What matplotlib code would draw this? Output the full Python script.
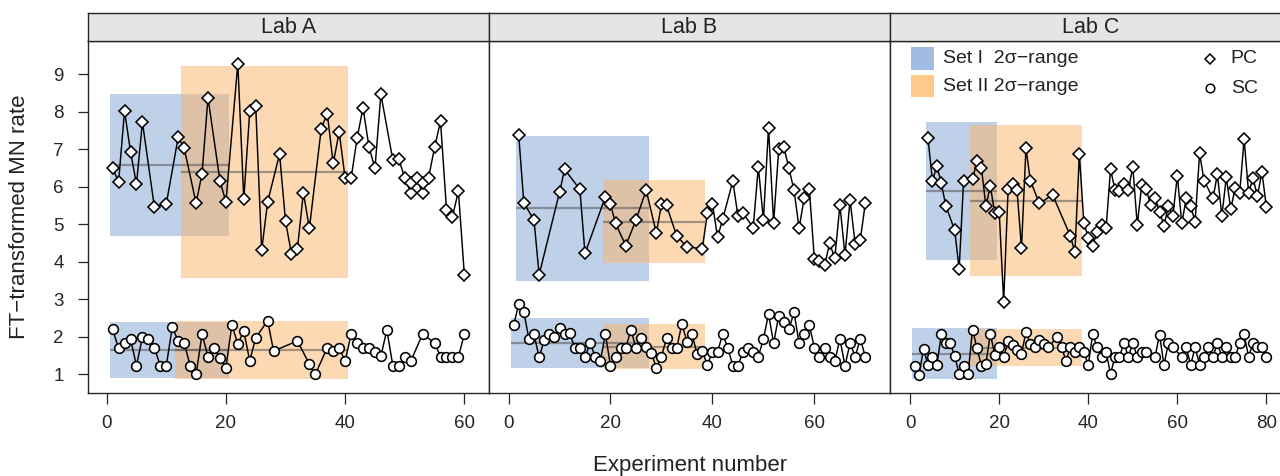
import matplotlib
matplotlib.use("Agg")
import matplotlib.pyplot as plt
from matplotlib.patches import Rectangle
from matplotlib.lines import Line2D

plt.rcParams['font.family'] = ['Liberation Sans', 'DejaVu Sans']

labs = ["Lab A", "Lab B", "Lab C"]

# Lab A
a_pc_x = [1, 2, 3, 4, 5, 6, 8, 10, 12, 13, 15, 16, 17, 19, 20, 22, 23, 24, 25, 26, 27,
          29, 30, 31, 32, 33, 34, 36, 37, 38, 39, 40, 41, 42, 43, 44, 45, 46, 48, 49,
          50, 51, 51, 52, 53, 53, 54, 55, 56, 57, 58, 59, 60]
a_pc_y = [6.49, 6.13, 8.02, 6.93, 6.07, 7.72, 5.46, 5.54, 7.32, 7.03, 5.56, 6.35, 8.37,
          6.16, 5.59, 9.28, 5.67, 8.01, 8.15, 4.31, 5.59, 6.87, 5.08, 4.21, 4.35, 5.84,
          4.89, 7.55, 7.95, 6.62, 7.46, 6.22, 6.22, 7.29, 8.10, 7.06, 6.49, 8.46, 6.71,
          6.73, 6.24, 5.84, 6.10, 6.24, 5.82, 6.10, 6.24, 7.05, 7.74, 5.39, 5.20, 5.88, 3.64]
a_sc_x = list(range(1, 26)) + [27, 28, 32, 34, 35] + list(range(37, 52)) + [53] + list(range(55, 61))
a_sc_y = [2.20, 1.69, 1.83, 1.94, 1.23, 1.99, 1.94, 1.71, 1.23, 1.23, 2.25, 1.89, 1.84,
          1.23, 1.00, 2.07, 1.47, 1.71, 1.44, 1.18, 2.31, 1.81, 2.15, 1.36, 1.97, 2.43,
          1.62, 1.89, 1.27, 1.00, 1.71, 1.62, 1.71, 1.35, 2.07, 1.84, 1.71, 1.71, 1.60,
          1.49, 2.18, 1.23, 1.23, 1.47, 1.35, 2.07, 1.84, 1.47, 1.47, 1.47, 1.47, 2.07]

# Lab B
b_pc_x = [2, 3, 5, 6, 10, 11, 14, 15, 19, 20, 21, 23, 25, 27, 29, 30, 31, 33, 35, 38,
          39, 40, 41, 42, 44, 45, 46, 48, 49, 50] + list(range(51, 71))
b_pc_y = [7.37, 5.57, 5.11, 3.65, 5.85, 6.46, 5.93, 4.22, 5.73, 5.53, 5.02, 4.43, 5.11,
          5.91, 4.76, 5.53, 5.50, 4.68, 4.40, 4.34, 5.29, 5.55, 4.65, 5.13, 6.15, 5.22,
          5.29, 4.91, 6.53, 5.11, 7.57, 5.04, 7.00, 7.06, 6.49, 5.91, 4.89, 5.70, 5.95,
          4.06, 4.02, 3.91, 4.49, 4.09, 5.51, 4.18, 5.64, 4.47, 4.58, 5.57]
b_sc_x = list(range(1, 71))
b_sc_y = [2.31, 2.87, 2.66, 1.94, 2.07, 1.45, 1.91, 2.07, 2.00, 2.24,
          2.07, 2.09, 1.71, 1.71, 1.45, 1.84, 1.47, 1.35, 2.07, 1.23,
          1.47, 1.71, 1.71, 2.18, 1.71, 1.96, 1.74, 1.56, 1.18, 1.47,
          1.97, 1.71, 1.71, 2.34, 1.87, 2.07, 1.53, 1.62, 1.25, 1.60,
          1.60, 2.07, 1.71, 1.23, 1.23, 1.60, 1.71, 1.60, 1.47, 1.94,
          2.61, 1.83, 2.56, 2.40, 2.20, 2.65, 1.83, 2.07, 2.31, 1.71,
          1.47, 1.71, 1.47, 1.35, 1.94, 1.23, 1.83, 1.47, 1.94, 1.47]

# Lab C
c_pc_x = [4, 5, 6, 7, 8, 10, 11, 12, 14, 15, 16, 17, 18, 19, 20, 21, 22, 23, 24, 25,
          26, 27, 29, 32] + list(range(36, 67)) + list(range(68, 81))
c_pc_y = [7.29, 6.16, 6.55, 6.09, 5.49, 4.84, 3.80, 6.16, 6.20, 6.68, 6.51, 5.48, 6.02,
          5.29, 5.32, 2.93, 5.94, 6.06, 5.91, 4.36, 7.02, 6.16, 5.56, 5.78, 4.68, 4.25,
          6.87, 5.04, 4.64, 4.42, 4.80, 4.98, 4.89, 6.47, 5.91, 5.89, 6.06, 5.91, 6.53,
          4.98, 6.04, 5.94, 5.51, 5.71, 5.33, 4.96, 5.48, 5.22, 6.29, 5.02, 5.69, 5.48,
          5.07, 6.89, 6.16, 5.69, 6.33, 5.22, 6.25, 5.40, 5.97, 5.82, 7.27, 5.84, 6.22,
          5.75, 6.40, 5.45]
c_sc_x = list(range(1, 32)) + list(range(33, 54)) + list(range(55, 60)) + list(range(61, 81))
c_sc_y = [1.23, 0.99, 1.68, 1.24, 1.46, 1.24, 2.07, 1.83, 1.83, 1.48,
          1.01, 1.23, 1.01, 2.19, 1.70, 1.23, 1.27, 2.08, 1.52, 1.72,
          1.45, 1.90, 1.79, 1.66, 1.55, 2.12, 1.82, 1.72, 1.91, 1.82, 1.72,
          1.99, 1.72, 1.36, 1.72, 1.59, 1.72, 1.60, 1.25, 2.07, 1.72,
          1.47, 1.60, 1.01, 1.47, 1.47, 1.83, 1.47, 1.83, 1.47, 1.60, 1.60,
          1.47, 2.05, 1.25, 1.83, 1.72,
          1.47, 1.72, 1.25, 1.72, 1.25, 1.47, 1.72, 1.47, 1.83, 1.47,
          1.72, 1.47, 1.47, 1.83, 2.07, 1.47, 1.83, 1.72, 1.72, 1.47]

# 2-sigma ranges: (first exp, last exp, mean, half width)
a_pc_set1 = (1, 20, 6.575, 1.885)
a_pc_set2 = (13, 40, 6.39, 2.82)
a_sc_set1 = (1, 20, 1.65, 0.74)
a_sc_set2 = (12, 40, 1.65, 0.78)
b_pc_set1 = (2, 27, 5.42, 1.93)
b_pc_set2 = (19, 38, 5.07, 1.11)
b_sc_set1 = (1, 27, 1.84, 0.66)
b_sc_set2 = (19, 38, 1.735, 0.595)
c_pc_set1 = (4, 19, 5.885, 1.845)
c_pc_set2 = (14, 38, 5.63, 2.01)
c_sc_set1 = (1, 19, 1.55, 0.68)
c_sc_set2 = (14, 38, 1.71, 0.49)

panels = [
    (a_pc_x, a_pc_y, a_sc_x, a_sc_y, [a_pc_set1, a_sc_set1], [a_pc_set2, a_sc_set2]),
    (b_pc_x, b_pc_y, b_sc_x, b_sc_y, [b_pc_set1, b_sc_set1], [b_pc_set2, b_sc_set2]),
    (c_pc_x, c_pc_y, c_sc_x, c_sc_y, [c_pc_set1, c_sc_set1], [c_pc_set2, c_sc_set2]),
]

blue_fill = '#81a3d5'
orange_fill = '#fbb569'
blue_key = '#a0bce3'
orange_key = '#fdca8c'
frame_col = '#262626'

fig = plt.figure(figsize=(12.8, 4.76), dpi=100)

W, H = 1280.0, 476.0
left0 = 88 / W
pw = 401 / W
bottom = 1 - 392.7 / H
ph = (392.7 - 40.7) / H
strip_h = (40.7 - 13.3) / H

axes = []
for i, (pcx, pcy, scx, scy, set1, set2) in enumerate(panels):
    ax = fig.add_axes([left0 + i * pw, bottom, pw, ph])
    axes.append(ax)

    for sets, col in [(set1, blue_fill), (set2, orange_fill)]:
        for first, last, mean, hw in sets:
            ax.add_patch(Rectangle((first - 0.5, mean - hw), last - first + 1, 2 * hw,
                                   facecolor=col, alpha=0.5, edgecolor='none', zorder=1))
            ax.plot([first - 0.5, last + 0.5], [mean, mean], color='#555555',
                    alpha=0.55, lw=1.6, zorder=2, solid_capstyle='butt')

    ax.plot(pcx, pcy, color='black', lw=1.05, marker='D', ms=6.3, mfc='white',
            mec='black', mew=1.15, zorder=3)
    ax.plot(scx, scy, color='black', lw=1.05, marker='o', ms=7.0, mfc='white',
            mec='black', mew=1.15, zorder=3)

    lo = min(pcx + scx)
    hi = max(pcx + scx)
    pad = 0.07 * (hi - lo)
    ax.set_xlim(lo - pad, hi + pad)
    ax.set_ylim(0.51, 9.89)

    ticks = [t for t in range(0, 81, 20) if t <= hi + pad]
    ax.set_xticks(ticks)
    ax.tick_params(axis='x', direction='out', length=7.7, width=0.9, pad=8.5,
                   labelsize=13.5, colors=frame_col)
    if i == 0:
        ax.set_yticks(range(1, 10))
        ax.tick_params(axis='y', direction='out', length=7.5, width=0.9, pad=10,
                       labelsize=13.5, colors=frame_col)
    else:
        ax.set_yticks([])
    for s in ax.spines.values():
        s.set_color(frame_col)
        s.set_linewidth(1.0)

    # strip on top
    sax = fig.add_axes([left0 + i * pw, bottom + ph, pw, strip_h])
    sax.set_facecolor('#e5e5e5')
    sax.set_xticks([])
    sax.set_yticks([])
    for s in sax.spines.values():
        s.set_color(frame_col)
        s.set_linewidth(1.0)
    sax.text(0.5, 0.47, labs[i], ha='center', va='center', fontsize=15.5,
             color='#222222', transform=sax.transAxes)

# legend inside Lab C panel
ax = axes[2]
tr = ax.transAxes
ax.add_patch(Rectangle((0.0516, 0.9168), 0.0574, 0.0642, facecolor=blue_key,
                       edgecolor='none', transform=tr, zorder=4))
ax.add_patch(Rectangle((0.0516, 0.839), 0.0574, 0.0636, facecolor=orange_key,
                       edgecolor='none', transform=tr, zorder=4))
ax.text(0.132, 0.949, "Set I  2σ−range", transform=tr, fontsize=14, va='center',
        ha='left', color='#222222')
ax.text(0.132, 0.871, "Set II 2σ−range", transform=tr, fontsize=14, va='center',
        ha='left', color='#222222')
ax.add_line(Line2D([0.797], [0.949], transform=tr, marker='D', ms=5.6, mfc='white',
                   mec='black', mew=1.1, ls='none'))
ax.add_line(Line2D([0.797], [0.865], transform=tr, marker='o', ms=6.2, mfc='white',
                   mec='black', mew=1.1, ls='none'))
ax.text(0.850, 0.949, "PC", transform=tr, fontsize=14, va='center', ha='left',
        color='#222222')
ax.text(0.850, 0.865, "SC", transform=tr, fontsize=14, va='center', ha='left',
        color='#222222')

fig.text(690 / W, 1 - 470.5 / H, "Experiment number", ha='center', va='baseline',
         fontsize=16, color='#222222')
fig.text(20 / W, 1 - 216.7 / H, "FT−transformed MN rate", ha='center', va='center',
         rotation=90, fontsize=16, color='#222222')

fig.savefig("out.png", dpi=100)
